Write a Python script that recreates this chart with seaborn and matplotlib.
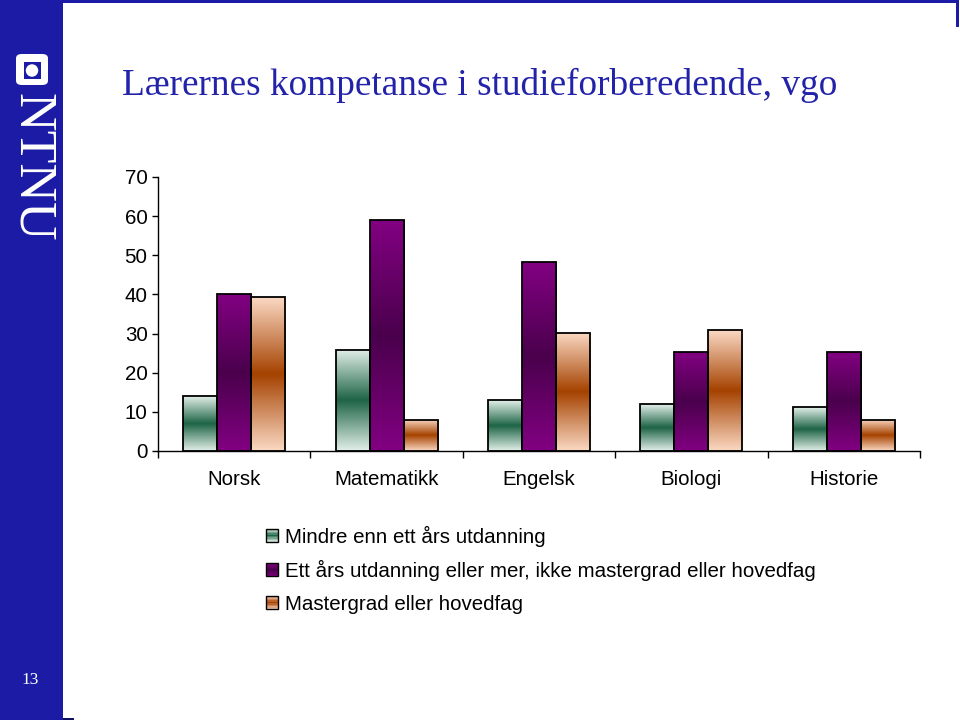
import numpy as np
import pandas as pd
import matplotlib
matplotlib.use("Agg")
import matplotlib.pyplot as plt
from matplotlib.patches import Rectangle, FancyBboxPatch, Ellipse, Patch
from matplotlib.legend_handler import HandlerBase
import seaborn as sns

# ---------------- data ----------------
categories = ["Norsk", "Matematikk", "Engelsk", "Biologi", "Historie"]
series_names = [
    "Mindre enn ett års utdanning",
    "Ett års utdanning eller mer, ikke mastergrad eller hovedfag",
    "Mastergrad eller hovedfag",
]
mindre = [14.0, 25.9, 13.0, 11.9, 11.2]
ett_aar = [40.0, 59.0, 48.2, 25.2, 25.2]
master = [39.3, 8.0, 30.2, 30.9, 8.0]
yticks = [0, 10, 20, 30, 40, 50, 60, 70]
title = "Lærernes kompetanse i studieforberedende, vgo"
page_number = "13"

# gradient colours (edge colour, middle colour) per series
light_cols = ["#E3F0E9", "#820082", "#FBD9C4"]
dark_cols = ["#1E6446", "#4A004C", "#A54200"]

df = pd.DataFrame({
    "Fag": categories * 3,
    "Verdi": mindre + ett_aar + master,
    "Serie": [series_names[0]] * 5 + [series_names[1]] * 5 + [series_names[2]] * 5,
})

# ---------------- style ----------------
sns.set_style("white")
plt.rcParams["font.family"] = ["Liberation Sans", "DejaVu Sans"]
plt.rcParams["text.color"] = "black"

W, H = 960, 720
fig = plt.figure(figsize=(W / 100, H / 100), dpi=100)
fig.patch.set_facecolor("white")


def fx(px):
    return px / W


def fy(py):
    return 1 - py / H


BLUE = "#1B1BA6"

# sidebar and frame lines
fig.patches.append(Rectangle((0, 0), fx(63), 1, transform=fig.transFigure,
                             facecolor=BLUE, edgecolor="none", zorder=0))
fig.patches.append(Rectangle((fx(63), fy(2.5)), fx(958) - fx(63), 2.5 / H,
                             transform=fig.transFigure, facecolor=BLUE,
                             edgecolor="none", zorder=0))
fig.patches.append(Rectangle((fx(956), fy(27)), 2.5 / W, 27 / H,
                             transform=fig.transFigure, facecolor=BLUE,
                             edgecolor="none", zorder=0))
fig.patches.append(Rectangle((fx(63), 0), 11 / W, 2.5 / H,
                             transform=fig.transFigure, facecolor="#101060",
                             edgecolor="none", zorder=0))

# logo square
fig.patches.append(FancyBboxPatch((fx(16), fy(85)), 32 / W, 31 / H,
                                  boxstyle="round,pad=0,rounding_size=0.006",
                                  transform=fig.transFigure, facecolor="white",
                                  edgecolor="none", zorder=1))
fig.patches.append(Rectangle((fx(23.5), fy(79)), 17 / W, 17 / H,
                             transform=fig.transFigure, facecolor=BLUE,
                             edgecolor="none", zorder=2))
fig.patches.append(Ellipse((fx(32), fy(70.5)), 12.5 / W, 12.5 / H,
                           transform=fig.transFigure, facecolor="white",
                           edgecolor="none", zorder=3))
fig.text(fx(32), fy(167.5), "NTNU", rotation=-90, ha="center", va="center",
         color="white", fontsize=38.5, family=["Liberation Serif", "DejaVu Serif"])
fig.text(fx(30), fy(680), page_number, ha="center", va="center",
         color="white", fontsize=12.5, family=["Liberation Serif", "DejaVu Serif"])

# title
fig.text(fx(122), fy(95), title, ha="left", va="baseline", color="#2323AA",
         fontsize=26.8, family=["Liberation Serif", "DejaVu Serif"])

# ---------------- chart ----------------
ax = fig.add_axes([fx(158), fy(451), fx(920) - fx(158), (451 - 177) / H])
sns.barplot(data=df, x="Fag", y="Verdi", hue="Serie", hue_order=series_names,
            order=categories, width=0.67, legend=False, ax=ax,
            edgecolor="black", linewidth=1.3, saturation=1)

t = np.linspace(0, 1, 256)
prof = 1 - np.abs(2 * t - 1)
for i, cont in enumerate(ax.containers):
    lc = np.array(matplotlib.colors.to_rgb(light_cols[i]))
    dc = np.array(matplotlib.colors.to_rgb(dark_cols[i]))
    grad = lc[None, :] + (dc - lc)[None, :] * prof[:, None]
    grad = grad[:, None, :]
    for bar in cont.patches:
        x0, y0 = bar.get_x(), bar.get_y()
        w, h = bar.get_width(), bar.get_height()
        im = ax.imshow(grad, extent=[x0, x0 + w, y0, y0 + h], origin="lower",
                       aspect="auto", interpolation="bilinear",
                       zorder=bar.get_zorder() - 0.05)
        im.set_clip_path(bar)
        bar.set_facecolor("none")
        bar.set_edgecolor("black")

ax.set_xlim(-0.5, len(categories) - 0.5)
ax.set_ylim(0, 70)
ax.set_yticks(yticks)
ax.set_xticks(range(len(categories)))
ax.set_xticklabels(categories)
ax.set_xticks(np.arange(-0.5, len(categories), 1.0), minor=True)
ax.set_xlabel("")
ax.set_ylabel("")
ax.tick_params(axis="x", which="major", length=0, pad=14, labelsize=14.8,
               colors="black")
ax.tick_params(axis="x", which="minor", length=5, width=1, direction="out",
               bottom=True, color="black")
ax.tick_params(axis="y", length=4.5, width=1, direction="out", left=True,
               pad=3, labelsize=14.8, colors="black")
sns.despine(ax=ax)
for s in ["left", "bottom"]:
    ax.spines[s].set_color("black")
    ax.spines[s].set_linewidth(1.0)
ax.set_facecolor("none")
ax.grid(False)


# ---------------- legend with gradient squares ----------------
class GradHandler(HandlerBase):
    def __init__(self, light, dark):
        super().__init__()
        self.light = np.array(matplotlib.colors.to_rgb(light))
        self.dark = np.array(matplotlib.colors.to_rgb(dark))

    def create_artists(self, legend, orig_handle, xdescent, ydescent,
                       width, height, fontsize, trans):
        x0, y0 = -xdescent, -ydescent
        n = 9
        arts = []
        for k in range(n):
            tt = (k + 0.5) / n
            f = 1 - abs(2 * tt - 1)
            c = self.light + (self.dark - self.light) * f
            arts.append(Rectangle((x0, y0 + k * height / n), width, height / n,
                                  facecolor=c, edgecolor="none", transform=trans))
        arts.append(Rectangle((x0, y0), width, height, facecolor="none",
                              edgecolor="black", linewidth=1.0, transform=trans))
        return arts


handles = [Patch(label=s) for s in series_names]
hmap = {h: GradHandler(light_cols[i], dark_cols[i]) for i, h in enumerate(handles)}
fig.legend(handles=handles, labels=series_names, handler_map=hmap,
           loc="upper left", bbox_to_anchor=(fx(266), fy(525.5)),
           bbox_transform=fig.transFigure, frameon=False, borderpad=0,
           borderaxespad=0, fontsize=14.8, handlelength=0.6, handleheight=0.6,
           handletextpad=0.32, labelspacing=0.66, labelcolor="black")

fig.savefig("out.png", dpi=100)
